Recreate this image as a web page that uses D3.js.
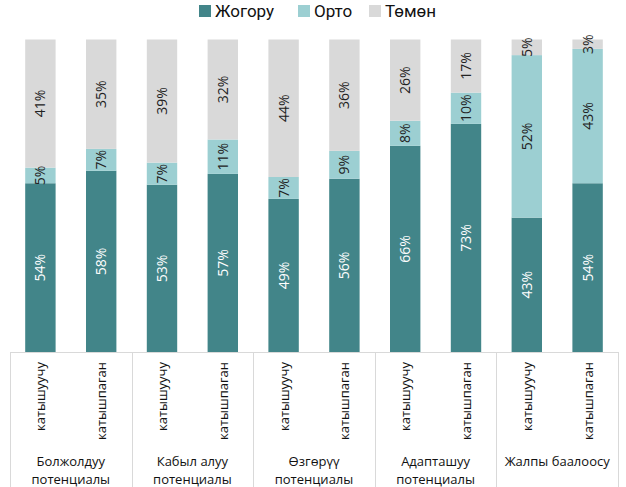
<!DOCTYPE html>
<html>
<head>
<meta charset="utf-8">
<script src="https://cdn.jsdelivr.net/npm/d3@7"></script>
<style>
  body { margin: 0; background: #fff; }
  text { font-family: "Open Sans", sans-serif; }
</style>
</head>
<body>
<svg id="ctner"></svg>
<script>
// data
const groups = ["Болжолдуу\nпотенциалы", "Кабыл алуу\nпотенциалы", "Өзгөрүү\nпотенциалы", "Адапташуу\nпотенциалы", "Жалпы баалоосу"];
const subGroups = ["катышуучу", "катышпаган"];
const seriesNames = ["Жогору", "Орто", "Төмөн"];
const high = [54, 58, 53, 57, 49, 56, 66, 73, 43, 54];
const mid = [5, 7, 7, 11, 7, 9, 8, 10, 52, 43];
const low = [41, 35, 39, 32, 44, 36, 26, 17, 5, 3];

main();

function main() {
  const width = 626;
  const height = 487;
  const svg = d3.select("#ctner").attr("width", width).attr("height", height);

  const rows = high.map((h, i) => ({
    key: i,
    group: Math.floor(i / 2),
    sub: subGroups[i % 2],
    "Жогору": h,
    "Орто": mid[i],
    "Төмөн": low[i],
  }));

  const color = d3.scaleOrdinal()
    .domain(seriesNames)
    .range(["#428589", "#9ccfd2", "#d9d9d9"]);

  /* scales */
  const left = 10, right = 618, top = 39.5, bottom = 352;
  const x = d3.scaleBand()
    .domain(rows.map((d) => d.key))
    .range([left, right])
    .paddingInner(0.5)
    .paddingOuter(0.25);
  const gx = d3.scaleBand()
    .domain(d3.range(groups.length))
    .range([left, right]);
  const y = d3.scaleLinear().domain([0, 1]).range([bottom, top]);

  const stacked = d3.stack()
    .keys(seriesNames)
    .offset(d3.stackOffsetExpand)(rows);

  /* bars */
  const layer = svg.append("g").selectAll("g")
    .data(stacked)
    .join("g")
    .attr("fill", (s) => color(s.key));
  layer.selectAll("rect")
    .data((s) => s)
    .join("rect")
    .attr("x", (d) => x(d.data.key))
    .attr("width", x.bandwidth())
    .attr("y", (d) => y(d[1]))
    .attr("height", (d) => y(d[0]) - y(d[1]));

  /* value labels */
  const labels = svg.append("g").style("font-size", "14px");
  stacked.forEach((s) => {
    labels.selectAll(null)
      .data(s)
      .join("text")
      .attr("transform", (d) =>
        `translate(${x(d.data.key) + x.bandwidth() / 2 + 5}, ${(y(d[0]) + y(d[1])) / 2}) rotate(-90)`)
      .attr("text-anchor", "middle")
      .attr("fill", s.key === "Жогору" ? "#ffffff" : "#222222")
      .text((d) => d.data[s.key] + "%");
  });

  /* axis: baseline and group separators */
  const axis = svg.append("g").attr("stroke", "#d9d9d9").attr("stroke-width", 1);
  axis.append("line")
    .attr("x1", left).attr("x2", right)
    .attr("y1", bottom + 0.5).attr("y2", bottom + 0.5);
  axis.selectAll(null)
    .data(d3.range(groups.length + 1))
    .join("line")
    .attr("x1", (i) => Math.round(left + i * gx.bandwidth()) + 0.5)
    .attr("x2", (i) => Math.round(left + i * gx.bandwidth()) + 0.5)
    .attr("y1", bottom)
    .attr("y2", height);

  // sub labels
  svg.append("g")
    .style("font-size", "13px")
    .attr("fill", "#111")
    .selectAll("text")
    .data(rows)
    .join("text")
    .attr("transform", (d) => `translate(${x(d.key) + x.bandwidth() / 2 + 5}, 362) rotate(-90)`)
    .attr("text-anchor", "end")
    .text((d) => d.sub);

  // group labels, one text per line
  const lines = groups.flatMap((g, i) =>
    g.split("\n").map((t, j) => ({ i, j, t })));
  svg.append("g")
    .style("font-size", "13px")
    .attr("fill", "#111")
    .selectAll("text")
    .data(lines)
    .join("text")
    .attr("x", (d) => gx(d.i) + gx.bandwidth() / 2)
    .attr("y", (d) => 466 + d.j * 18)
    .attr("text-anchor", "middle")
    .text((d) => d.t);

  /* legend */
  const legendX = [199, 298, 369];
  const legend = svg.append("g")
    .selectAll("g")
    .data(seriesNames)
    .join("g")
    .attr("transform", (d, i) => `translate(${legendX[i]}, 5)`);
  legend.append("rect")
    .attr("width", 12)
    .attr("height", 12)
    .attr("fill", (d) => color(d));
  legend.append("text")
    .attr("x", 16)
    .attr("y", 12)
    .style("font-family", "Roboto, sans-serif")
    .style("font-size", "17px")
    .attr("fill", "#111")
    .text((d) => d);
}
</script>
</body>
</html>
